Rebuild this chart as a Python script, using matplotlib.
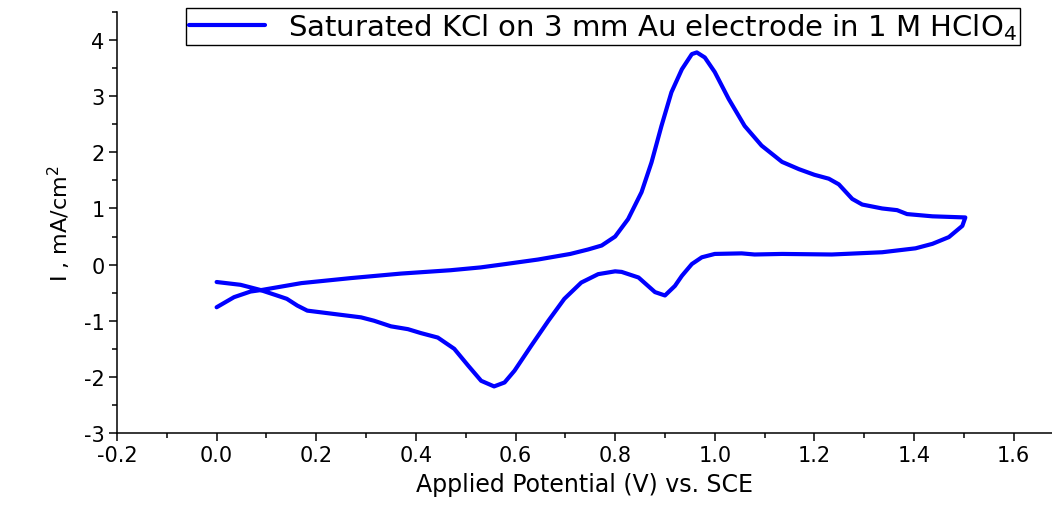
import matplotlib
matplotlib.use("Agg")
import matplotlib.pyplot as plt
from matplotlib.ticker import MultipleLocator, FormatStrFormatter

plt.rcParams['font.family'] = ['DejaVu Sans']
plt.rcParams['mathtext.fontset'] = 'dejavusans'
plt.rcParams['axes.unicode_minus'] = False

# Anodic sweep (0 V -> 1.5 V)
anodic_v = [0.0, 0.035, 0.068, 0.092, 0.17, 0.27, 0.37, 0.47, 0.53, 0.58, 0.645,
            0.71, 0.746, 0.773, 0.80, 0.826, 0.853, 0.873, 0.893, 0.913, 0.934,
            0.954, 0.964, 0.98, 1.0, 1.028, 1.06, 1.094, 1.135, 1.169, 1.20,
            1.229, 1.249, 1.276, 1.296, 1.336, 1.366, 1.386, 1.437, 1.503]
anodic_i = [-0.76, -0.58, -0.48, -0.45, -0.33, -0.24, -0.16, -0.10, -0.05, 0.01, 0.09,
            0.19, 0.27, 0.34, 0.50, 0.81, 1.29, 1.82, 2.47, 3.07, 3.48,
            3.75, 3.78, 3.69, 3.43, 2.95, 2.47, 2.12, 1.83, 1.70, 1.60,
            1.53, 1.43, 1.17, 1.07, 1.00, 0.97, 0.90, 0.86, 0.84]

# Cathodic sweep (1.5 V -> 0 V)
cathodic_v = [1.503, 1.497, 1.47, 1.437, 1.403, 1.336, 1.235, 1.135, 1.08, 1.054,
              1.0, 0.974, 0.954, 0.934, 0.92, 0.90, 0.88, 0.847, 0.813, 0.80,
              0.766, 0.732, 0.698, 0.666, 0.632, 0.598, 0.578, 0.557, 0.531, 0.505,
              0.477, 0.444, 0.41, 0.384, 0.35, 0.316, 0.29, 0.236, 0.182, 0.162,
              0.141, 0.121, 0.087, 0.048, 0.0]
cathodic_i = [0.84, 0.69, 0.49, 0.37, 0.29, 0.22, 0.18, 0.19, 0.18, 0.20,
              0.19, 0.13, 0.01, -0.20, -0.38, -0.55, -0.49, -0.23, -0.13, -0.12,
              -0.17, -0.32, -0.61, -1.00, -1.44, -1.89, -2.10, -2.17, -2.07, -1.80,
              -1.50, -1.30, -1.22, -1.15, -1.10, -1.00, -0.94, -0.88, -0.82, -0.73,
              -0.61, -0.55, -0.45, -0.36, -0.31]

potential = anodic_v + cathodic_v
current = anodic_i + cathodic_i

legend_label = r'Saturated KCl on 3 mm Au electrode in 1 M HClO$_4$'

fig = plt.figure(figsize=(10.52, 5.06), dpi=100)
ax = fig.add_axes([117/1052, 1 - 434/506, 1 - 117/1052, (434 - 13)/506])

ax.plot(potential, current, color='#0000FF', linewidth=3,
        solid_joinstyle='round', solid_capstyle='round', label=legend_label)

ax.set_xlim(-0.2, 1.677)
ax.set_ylim(-3, 4.5)
ax.xaxis.set_major_locator(MultipleLocator(0.2))
ax.xaxis.set_minor_locator(MultipleLocator(0.1))
ax.yaxis.set_major_locator(MultipleLocator(1))
ax.yaxis.set_minor_locator(MultipleLocator(0.5))
ax.xaxis.set_major_formatter(FormatStrFormatter('%.1f'))

ax.spines['top'].set_visible(False)
ax.spines['right'].set_visible(False)
for s in ('left', 'bottom'):
    ax.spines[s].set_linewidth(1.1)

ax.tick_params(which='major', direction='out', length=6, width=1.1, labelsize=15, pad=3)
ax.tick_params(which='minor', direction='out', length=3.5, width=1.1)

ax.set_xlabel('Applied Potential (V) vs. SCE', fontsize=17, labelpad=5)
ax.set_ylabel(r'I , mA/cm$^{2}$', fontsize=16, labelpad=8)

leg = fig.legend(loc='upper left', bbox_to_anchor=(186/1052, 1 - 9/506),
                 fontsize=21, frameon=True, fancybox=False, shadow=False,
                 handlelength=2.6, handletextpad=0.8, borderpad=0.1,
                 borderaxespad=0)
leg.get_frame().set_edgecolor('black')
leg.get_frame().set_linewidth(1.0)
leg.get_frame().set_alpha(1)

fig.savefig('out.png', dpi=100)
